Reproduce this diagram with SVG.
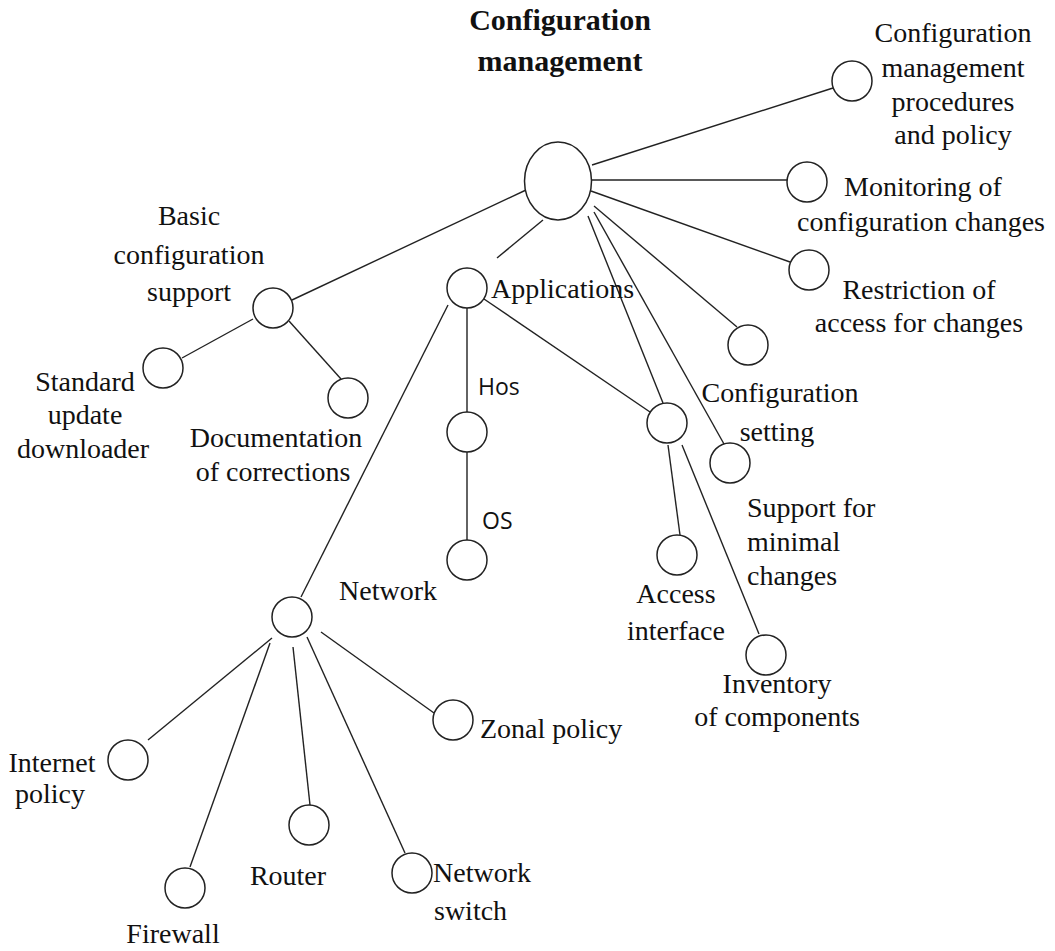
<svg xmlns="http://www.w3.org/2000/svg" width="1055" height="951" viewBox="0 0 1055 951">
<style>
.n{fill:#fff;stroke:#222;stroke-width:1.5}
.c line{stroke:#222;stroke-width:1.4}
.t{font-family:"Liberation Serif","Times New Roman",serif;font-size:28px;fill:#111}
.m{text-anchor:middle}
.b{font-weight:bold;font-size:30px}
.s{font-family:"Open Sans","DejaVu Sans",sans-serif;font-size:23px;fill:#111}
</style>
<rect width="1055" height="951" fill="#fff"/>
<g class="c" id="connectors">
<line x1="592" y1="165" x2="833" y2="88"/>
<line x1="592" y1="180" x2="787" y2="180"/>
<line x1="591" y1="191" x2="790" y2="262"/>
<line x1="594" y1="206" x2="737" y2="327"/>
<line x1="594" y1="212" x2="724" y2="444"/>
<line x1="588" y1="216" x2="663" y2="403"/>
<line x1="543" y1="220" x2="497" y2="258"/>
<line x1="526" y1="190" x2="292" y2="300"/>
<line x1="253" y1="319" x2="182" y2="358"/>
<line x1="289" y1="321" x2="341" y2="379"/>
<line x1="467" y1="308" x2="467" y2="412"/>
<line x1="467" y1="452" x2="467" y2="540"/>
<line x1="484" y1="299" x2="650" y2="412"/>
<line x1="448" y1="305" x2="301" y2="597"/>
<line x1="668" y1="445" x2="680" y2="535"/>
<line x1="682" y1="445" x2="759" y2="634"/>
<line x1="272" y1="638" x2="148" y2="740"/>
<line x1="270" y1="643" x2="190" y2="867"/>
<line x1="293" y1="647" x2="310" y2="805"/>
<line x1="307" y1="637" x2="405" y2="853"/>
<line x1="321" y1="632" x2="434" y2="713"/>
</g>
<g id="root"><ellipse class="n" cx="558" cy="181" rx="33.5" ry="39"/>
<text class="t b m" x="560" y="30">Configuration</text><text class="t b m" x="560" y="71">management</text></g>
<g id="procedures"><circle class="n" cx="852" cy="81" r="20"/>
<text class="t m" x="953" y="42">Configuration</text><text class="t m" x="953" y="77">management</text><text class="t m" x="953" y="111">procedures</text><text class="t m" x="953" y="144">and policy</text></g>
<g id="monitoring"><circle class="n" cx="807" cy="182" r="20"/>
<text class="t m" x="923" y="196">Monitoring of</text><text class="t m" x="921" y="231">configuration changes</text></g>
<g id="restriction"><circle class="n" cx="809" cy="270" r="20"/>
<text class="t m" x="919" y="299">Restriction of</text><text class="t m" x="919" y="332">access for changes</text></g>
<g id="unnamed"><circle class="n" cx="748" cy="345" r="20"/></g>
<g id="config-setting"><circle class="n" cx="730" cy="463" r="20"/>
<text class="t m" x="780" y="402">Configuration</text><text class="t m" x="777" y="441">setting</text></g>
<g id="minimal"><text class="t" x="747" y="517">Support for</text><text class="t" x="747" y="551">minimal</text><text class="t" x="747" y="585">changes</text></g>
<g id="access-parent"><circle class="n" cx="667" cy="423" r="20"/></g>
<g id="access-interface"><circle class="n" cx="677" cy="555" r="20"/>
<text class="t m" x="676" y="603">Access</text><text class="t m" x="676" y="640">interface</text></g>
<g id="inventory"><circle class="n" cx="766" cy="655" r="20"/>
<text class="t m" x="777" y="693">Inventory</text><text class="t m" x="777" y="726">of components</text></g>
<g id="applications"><circle class="n" cx="467" cy="288" r="20"/>
<text class="t" x="491" y="298">Applications</text></g>
<g id="hos"><circle class="n" cx="467" cy="432" r="20"/><text class="s" x="478" y="395">Hos</text></g>
<g id="os"><circle class="n" cx="467" cy="560" r="20"/><text class="s" x="482" y="529">OS</text></g>
<g id="basic"><circle class="n" cx="273" cy="308" r="20"/>
<text class="t m" x="189" y="225">Basic</text><text class="t m" x="189" y="264">configuration</text><text class="t m" x="189" y="301">support</text></g>
<g id="standard"><circle class="n" cx="163" cy="368" r="20"/>
<text class="t m" x="85" y="391">Standard</text><text class="t m" x="85" y="424">update</text><text class="t m" x="83" y="458">downloader</text></g>
<g id="documentation"><circle class="n" cx="348" cy="398" r="20"/>
<text class="t m" x="276" y="447">Documentation</text><text class="t m" x="273" y="481">of corrections</text></g>
<g id="network"><circle class="n" cx="292" cy="617" r="20"/>
<text class="t" x="339" y="600">Network</text></g>
<g id="internet"><circle class="n" cx="128" cy="760" r="20"/>
<text class="t m" x="52" y="772">Internet</text><text class="t m" x="50" y="803">policy</text></g>
<g id="firewall"><circle class="n" cx="185" cy="888" r="20"/>
<text class="t m" x="173" y="943">Firewall</text></g>
<g id="router"><circle class="n" cx="309" cy="825" r="20"/>
<text class="t m" x="288" y="885">Router</text></g>
<g id="switch"><circle class="n" cx="412" cy="873" r="20"/>
<text class="t" x="433" y="882">Network</text><text class="t" x="434" y="920">switch</text></g>
<g id="zonal"><circle class="n" cx="453" cy="720" r="20"/>
<text class="t" x="480" y="738">Zonal policy</text></g>
</svg>
